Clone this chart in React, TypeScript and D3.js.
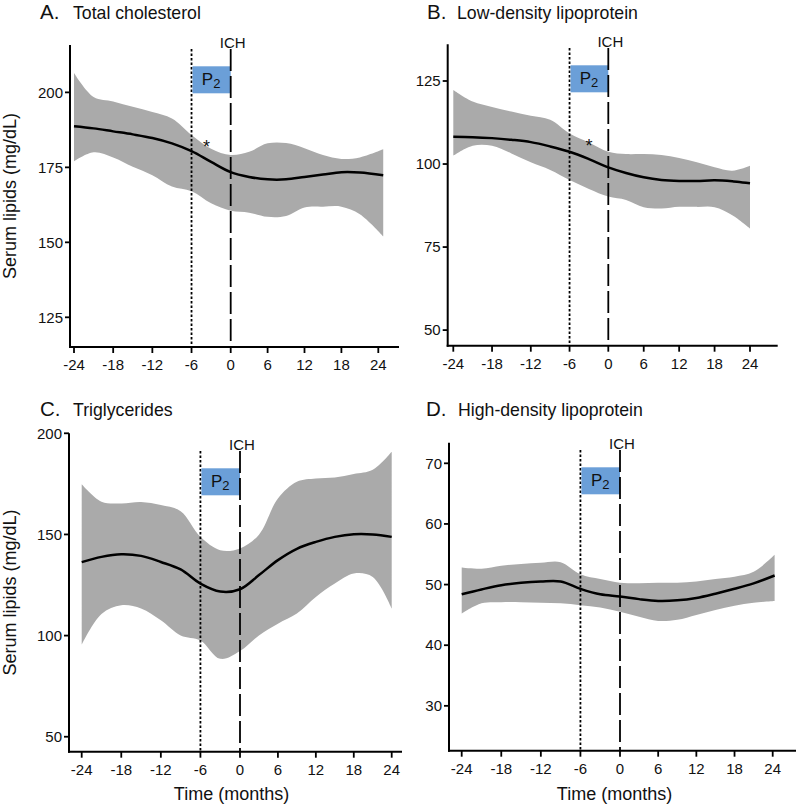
import React from "react";
import * as d3 from "d3";

// ---------- data ----------
const xTicks = [-24, -18, -12, -6, 0, 6, 12, 18, 24];

// A. Total cholesterol
const tcMonths = [-24, -21, -18, -15, -12, -9, -6, -3, 0, 3, 6, 9, 12, 15, 18, 21, 24.8];
const tcMean = [188.7, 188.0, 187.0, 186.0, 184.8, 183.0, 180.4, 176.8, 173.4, 171.8, 171.0, 171.0, 171.8, 172.6, 173.4, 173.3, 172.4];
const tcLower = [177, 180, 178.3, 175.2, 172.4, 168.6, 167, 163, 160.5, 159.9, 158.5, 158.8, 161.6, 161.9, 161.9, 159.4, 152];
const tcUpper = [206.5, 198.5, 197, 195.2, 193.5, 191.3, 185.8, 181.2, 179.1, 180.2, 183, 183.1, 181.4, 179.1, 177.8, 178.3, 181];
const tcTicks = [125, 150, 175, 200];

// B. Low-density lipoprotein
const ldlMonths = [-24, -21, -18, -15, -12, -9, -6, -3, 0, 3, 6, 9, 12, 15, 18, 21, 24];
const ldlMean = [108.2, 108.1, 107.8, 107.3, 106.6, 105.3, 103.7, 101.5, 99.0, 97.3, 96.0, 95.2, 94.9, 94.9, 95.1, 94.8, 94.2];
const ldlLower = [102.5, 105.5, 105.5, 103.2, 100.5, 98.2, 95.2, 92.5, 90.2, 89.2, 87.0, 86.6, 87.1, 87.1, 87.0, 84.6, 80.6];
const ldlUpper = [122.3, 118.8, 117.2, 115.8, 114.5, 113.3, 109.2, 106.5, 103.7, 103.0, 103.0, 102.7, 101.8, 100.5, 99.0, 98.0, 99.5];
const ldlTicks = [50, 75, 100, 125];

// C. Triglycerides
const tgMonths = [-24, -21, -18, -15, -12, -9, -6, -3, 0, 3, 6, 9, 12, 15, 18, 21, 24];
const tgMean = [136.3, 138.9, 140.2, 139.4, 136.4, 132.7, 125.7, 121.8, 122.9, 129.9, 137.3, 142.9, 146.3, 148.8, 150.1, 150.0, 148.8];
const tgLower = [95.5, 110.7, 115.0, 113.4, 107.6, 100.1, 97.6, 88.5, 92.4, 100.1, 105.9, 110.9, 119.1, 125.7, 130.7, 129.0, 113.4];
const tgUpper = [174.8, 166.2, 165.3, 166.0, 164.5, 161.5, 148.8, 142.2, 143.1, 149.9, 167.8, 176.1, 177.7, 178.2, 179.9, 182.0, 190.9];
const tgTicks = [50, 100, 150, 200];

// D. High-density lipoprotein
const hdlMonths = [-24, -21, -18, -15, -12, -9, -6, -3, 0, 3, 6, 9, 12, 15, 18, 21, 24.3];
const hdlMean = [48.4, 49.2, 49.9, 50.3, 50.5, 50.5, 49.3, 48.4, 48.05, 47.6, 47.3, 47.4, 47.8, 48.5, 49.3, 50.2, 51.5];
const hdlLower = [45.2, 46.9, 47.1, 47.1, 47.0, 46.9, 46.6, 46.2, 45.5, 44.7, 44.0, 44.2, 45.0, 45.8, 46.5, 47.0, 47.3];
const hdlUpper = [52.8, 52.6, 53.1, 53.4, 53.6, 53.7, 51.7, 50.9, 50.3, 50.2, 50.3, 50.3, 50.5, 50.9, 51.3, 52.1, 54.9];
const hdlTicks = [30, 40, 50, 60, 70];

const titles = ["Total cholesterol", "Low-density lipoprotein", "Triglycerides", "High-density lipoprotein"];
const letters = ["A.", "B.", "C.", "D."];
const yLabel = "Serum lipids (mg/dL)";
const xLabel = "Time (months)";
const eventLabel = "ICH";

// ---------- layout ----------
const FONT = "'Liberation Sans', Arial, Helvetica, sans-serif";

type Panel = {
  letter: string; title: string; titleX: number; letterX: number; titleY: number;
  left: number; right: number; top: number; bottom: number;
  yDomain: [number, number]; xRange: [number, number, number];
  yTicks: number[]; months: number[]; mean: number[]; lower: number[]; upper: number[];
  lineTop: number; showY: boolean; showX: boolean; star?: [number, number];
};

const panels: Panel[] = [
  { letter: letters[0], title: titles[0], letterX: 40, titleX: 73, titleY: 19,
    left: 70, right: 399, top: 45, bottom: 347, yDomain: [115.1, 215.8], xRange: [74, 230.7, 378.3],
    yTicks: tcTicks, months: tcMonths, mean: tcMean, lower: tcLower, upper: tcUpper,
    lineTop: 49, showY: true, showX: false, star: [-3.7, 182.5] },
  { letter: letters[1], title: titles[1], letterX: 427, titleX: 457, titleY: 19,
    left: 447.7, right: 777.7, top: 44.3, bottom: 345.7, yDomain: [45.3, 136.05], xRange: [453.3, 608.3, 750],
    yTicks: ldlTicks, months: ldlMonths, mean: ldlMean, lower: ldlLower, upper: ldlUpper,
    lineTop: 48, showY: false, showX: false, star: [-3, 106] },
  { letter: letters[2], title: titles[2], letterX: 40, titleX: 73, titleY: 416,
    left: 69, right: 402, top: 433.3, bottom: 751.7, yDomain: [42.6, 200], xRange: [81.7, 240, 391.7],
    yTicks: tgTicks, months: tgMonths, mean: tgMean, lower: tgLower, upper: tgUpper,
    lineTop: 451, showY: true, showX: true },
  { letter: letters[3], title: titles[3], letterX: 426, titleX: 458, titleY: 416,
    left: 449, right: 796, top: 442.7, bottom: 750.7, yDomain: [22.6, 73.4], xRange: [461.7, 620, 772.7],
    yTicks: hdlTicks, months: hdlMonths, mean: hdlMean, lower: hdlLower, upper: hdlUpper,
    lineTop: 450, showY: false, showX: true },
];

function PanelView({ p }: { p: Panel }) {
  const x = d3.scaleLinear().domain([-24, 0, 24]).range(p.xRange);
  const y = d3.scaleLinear().domain(p.yDomain).range([p.bottom, p.top]);
  const idx = p.months.map((_, i) => i);
  const area = d3.area<number>()
    .x((i) => x(p.months[i]))
    .y0((i) => y(p.lower[i]))
    .y1((i) => y(p.upper[i]))
    .curve(d3.curveCatmullRom.alpha(0.5));
  const line = d3.line<number>()
    .x((i) => x(p.months[i]))
    .y((i) => y(p.mean[i]))
    .curve(d3.curveCatmullRom.alpha(0.5));
  const x6 = x(-6);
  const x0 = x(0);
  const boxTop = p.lineTop + 17.3;
  return (
    <g>
      <text x={p.letterX} y={p.titleY} fontSize={20.5} fontFamily={FONT} fill="#111">{p.letter}</text>
      <text x={p.titleX} y={p.titleY} fontSize={17.7} fontFamily={FONT} fill="#111">{p.title}</text>

      <path d={area(idx) || ""} fill="#aaaaaa" />

      <line x1={x6} x2={x6} y1={p.lineTop} y2={p.bottom} stroke="#000" strokeWidth={1.8} strokeDasharray="2.5,2" />
      <rect x={x6 + 1} y={boxTop} width={x0 - x6 - 1} height={27} fill="#6b9fd8" />
      <text x={(x6 + x0) / 2} y={boxTop + 18.5} fontSize={17} fontFamily={FONT} textAnchor="middle" fill="#111">
        P<tspan fontSize={13} dy={3}>2</tspan>
      </text>
      <line x1={x0} x2={x0} y1={p.lineTop} y2={p.bottom} stroke="#000" strokeWidth={1.8} strokeDasharray="22,5" />
      <text x={x0 + 2} y={p.lineTop - 1.5} fontSize={15} fontFamily={FONT} textAnchor="middle" fill="#111">{eventLabel}</text>

      <path d={line(idx) || ""} fill="none" stroke="#000" strokeWidth={2.5} />
      {p.star && (
        <text x={x(p.star[0])} y={y(p.star[1]) + 8} fontSize={18} fontFamily={FONT} textAnchor="middle" fill="#111">*</text>
      )}

      {/* axes */}
      <line x1={p.left} x2={p.left} y1={p.top} y2={p.bottom + 1} stroke="#000" strokeWidth={2} />
      <line x1={p.left - 1} x2={p.right} y1={p.bottom} y2={p.bottom} stroke="#000" strokeWidth={2} />
      {p.yTicks.map((t) => (
        <g key={"y" + t}>
          <line x1={p.left - 5} x2={p.left} y1={y(t)} y2={y(t)} stroke="#000" strokeWidth={1.8} />
          <text x={p.left - 7} y={y(t)} dy="0.35em" fontSize={15} fontFamily={FONT} textAnchor="end" fill="#111">{t}</text>
        </g>
      ))}
      {xTicks.map((t) => (
        <g key={"x" + t}>
          <line x1={x(t)} x2={x(t)} y1={p.bottom} y2={p.bottom + 6} stroke="#000" strokeWidth={1.8} />
          <text x={x(t)} y={p.bottom + 23} fontSize={15} fontFamily={FONT} textAnchor="middle" fill="#111">{t}</text>
        </g>
      ))}
      {p.showY && (
        <text transform={`translate(16,${(p.top + p.bottom) / 2}) rotate(-90)`} fontSize={18} fontFamily={FONT} textAnchor="middle" fill="#111">{yLabel}</text>
      )}
      {p.showX && (
        <text x={(p.left + p.right) / 2 + (p.left < 200 ? -4 : -8)} y={800} fontSize={18} fontFamily={FONT} textAnchor="middle" fill="#111">{xLabel}</text>
      )}
    </g>
  );
}

export default function App() {
  return (
    <svg width={798} height={807} style={{ position: "absolute", left: 0, top: 0, background: "#fff" }}>
      <rect width={798} height={807} fill="#fff" />
      {panels.map((p) => (
        <PanelView key={p.letter} p={p} />
      ))}
    </svg>
  );
}
